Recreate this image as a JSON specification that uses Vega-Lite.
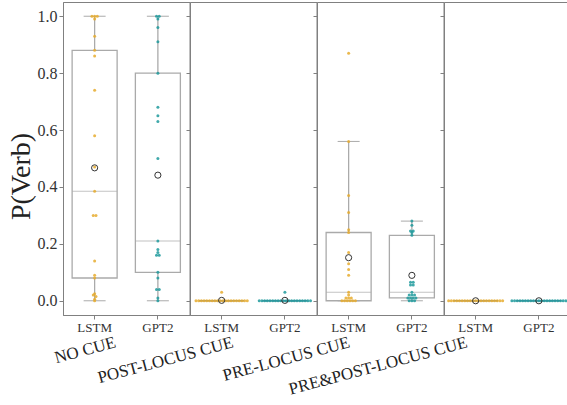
{
  "$schema": "https://vega.github.io/schema/vega-lite/v6.json",
  "padding": {"left": 6, "top": 1, "right": 0, "bottom": 5},
  "background": "white",
  "data": {"values": [
    {"cue":"NO CUE","model":"LSTM","value":1},{"cue":"NO CUE","model":"LSTM","value":1},{"cue":"NO CUE","model":"LSTM","value":1},{"cue":"NO CUE","model":"LSTM","value":0.99},{"cue":"NO CUE","model":"LSTM","value":0.93},{"cue":"NO CUE","model":"LSTM","value":0.88},{"cue":"NO CUE","model":"LSTM","value":0.86},{"cue":"NO CUE","model":"LSTM","value":0.74},{"cue":"NO CUE","model":"LSTM","value":0.58},{"cue":"NO CUE","model":"LSTM","value":0.47},{"cue":"NO CUE","model":"LSTM","value":0.385},{"cue":"NO CUE","model":"LSTM","value":0.3},{"cue":"NO CUE","model":"LSTM","value":0.3},{"cue":"NO CUE","model":"LSTM","value":0.14},{"cue":"NO CUE","model":"LSTM","value":0.09},{"cue":"NO CUE","model":"LSTM","value":0.08},{"cue":"NO CUE","model":"LSTM","value":0.025},{"cue":"NO CUE","model":"LSTM","value":0.02},{"cue":"NO CUE","model":"LSTM","value":0.015},{"cue":"NO CUE","model":"LSTM","value":0.005},{"cue":"NO CUE","model":"LSTM","value":0},
    {"cue":"NO CUE","model":"GPT2","value":1},{"cue":"NO CUE","model":"GPT2","value":1},{"cue":"NO CUE","model":"GPT2","value":0.99},{"cue":"NO CUE","model":"GPT2","value":0.96},{"cue":"NO CUE","model":"GPT2","value":0.91},{"cue":"NO CUE","model":"GPT2","value":0.8},{"cue":"NO CUE","model":"GPT2","value":0.68},{"cue":"NO CUE","model":"GPT2","value":0.65},{"cue":"NO CUE","model":"GPT2","value":0.63},{"cue":"NO CUE","model":"GPT2","value":0.5},{"cue":"NO CUE","model":"GPT2","value":0.21},{"cue":"NO CUE","model":"GPT2","value":0.18},{"cue":"NO CUE","model":"GPT2","value":0.17},{"cue":"NO CUE","model":"GPT2","value":0.16},{"cue":"NO CUE","model":"GPT2","value":0.16},{"cue":"NO CUE","model":"GPT2","value":0.1},{"cue":"NO CUE","model":"GPT2","value":0.08},{"cue":"NO CUE","model":"GPT2","value":0.04},{"cue":"NO CUE","model":"GPT2","value":0.04},{"cue":"NO CUE","model":"GPT2","value":0.01},{"cue":"NO CUE","model":"GPT2","value":0},
    {"cue":"POST-LOCUS CUE","model":"LSTM","value":0.03},{"cue":"POST-LOCUS CUE","model":"LSTM","value":0},{"cue":"POST-LOCUS CUE","model":"LSTM","value":0},{"cue":"POST-LOCUS CUE","model":"LSTM","value":0},{"cue":"POST-LOCUS CUE","model":"LSTM","value":0},{"cue":"POST-LOCUS CUE","model":"LSTM","value":0},{"cue":"POST-LOCUS CUE","model":"LSTM","value":0},{"cue":"POST-LOCUS CUE","model":"LSTM","value":0},{"cue":"POST-LOCUS CUE","model":"LSTM","value":0},{"cue":"POST-LOCUS CUE","model":"LSTM","value":0},{"cue":"POST-LOCUS CUE","model":"LSTM","value":0},{"cue":"POST-LOCUS CUE","model":"LSTM","value":0},{"cue":"POST-LOCUS CUE","model":"LSTM","value":0},{"cue":"POST-LOCUS CUE","model":"LSTM","value":0},{"cue":"POST-LOCUS CUE","model":"LSTM","value":0},{"cue":"POST-LOCUS CUE","model":"LSTM","value":0},{"cue":"POST-LOCUS CUE","model":"LSTM","value":0},{"cue":"POST-LOCUS CUE","model":"LSTM","value":0},{"cue":"POST-LOCUS CUE","model":"LSTM","value":0},{"cue":"POST-LOCUS CUE","model":"LSTM","value":0},{"cue":"POST-LOCUS CUE","model":"LSTM","value":0},
    {"cue":"POST-LOCUS CUE","model":"GPT2","value":0.03},{"cue":"POST-LOCUS CUE","model":"GPT2","value":0},{"cue":"POST-LOCUS CUE","model":"GPT2","value":0},{"cue":"POST-LOCUS CUE","model":"GPT2","value":0},{"cue":"POST-LOCUS CUE","model":"GPT2","value":0},{"cue":"POST-LOCUS CUE","model":"GPT2","value":0},{"cue":"POST-LOCUS CUE","model":"GPT2","value":0},{"cue":"POST-LOCUS CUE","model":"GPT2","value":0},{"cue":"POST-LOCUS CUE","model":"GPT2","value":0},{"cue":"POST-LOCUS CUE","model":"GPT2","value":0},{"cue":"POST-LOCUS CUE","model":"GPT2","value":0},{"cue":"POST-LOCUS CUE","model":"GPT2","value":0},{"cue":"POST-LOCUS CUE","model":"GPT2","value":0},{"cue":"POST-LOCUS CUE","model":"GPT2","value":0},{"cue":"POST-LOCUS CUE","model":"GPT2","value":0},{"cue":"POST-LOCUS CUE","model":"GPT2","value":0},{"cue":"POST-LOCUS CUE","model":"GPT2","value":0},{"cue":"POST-LOCUS CUE","model":"GPT2","value":0},{"cue":"POST-LOCUS CUE","model":"GPT2","value":0},{"cue":"POST-LOCUS CUE","model":"GPT2","value":0},{"cue":"POST-LOCUS CUE","model":"GPT2","value":0},
    {"cue":"PRE-LOCUS CUE","model":"LSTM","value":0.87},{"cue":"PRE-LOCUS CUE","model":"LSTM","value":0.56},{"cue":"PRE-LOCUS CUE","model":"LSTM","value":0.37},{"cue":"PRE-LOCUS CUE","model":"LSTM","value":0.31},{"cue":"PRE-LOCUS CUE","model":"LSTM","value":0.25},{"cue":"PRE-LOCUS CUE","model":"LSTM","value":0.24},{"cue":"PRE-LOCUS CUE","model":"LSTM","value":0.17},{"cue":"PRE-LOCUS CUE","model":"LSTM","value":0.13},{"cue":"PRE-LOCUS CUE","model":"LSTM","value":0.11},{"cue":"PRE-LOCUS CUE","model":"LSTM","value":0.09},{"cue":"PRE-LOCUS CUE","model":"LSTM","value":0.03},{"cue":"PRE-LOCUS CUE","model":"LSTM","value":0.02},{"cue":"PRE-LOCUS CUE","model":"LSTM","value":0.01},{"cue":"PRE-LOCUS CUE","model":"LSTM","value":0.01},{"cue":"PRE-LOCUS CUE","model":"LSTM","value":0.01},{"cue":"PRE-LOCUS CUE","model":"LSTM","value":0},{"cue":"PRE-LOCUS CUE","model":"LSTM","value":0},{"cue":"PRE-LOCUS CUE","model":"LSTM","value":0},{"cue":"PRE-LOCUS CUE","model":"LSTM","value":0},{"cue":"PRE-LOCUS CUE","model":"LSTM","value":0},{"cue":"PRE-LOCUS CUE","model":"LSTM","value":0},
    {"cue":"PRE-LOCUS CUE","model":"GPT2","value":0.28},{"cue":"PRE-LOCUS CUE","model":"GPT2","value":0.265},{"cue":"PRE-LOCUS CUE","model":"GPT2","value":0.245},{"cue":"PRE-LOCUS CUE","model":"GPT2","value":0.245},{"cue":"PRE-LOCUS CUE","model":"GPT2","value":0.24},{"cue":"PRE-LOCUS CUE","model":"GPT2","value":0.23},{"cue":"PRE-LOCUS CUE","model":"GPT2","value":0.065},{"cue":"PRE-LOCUS CUE","model":"GPT2","value":0.065},{"cue":"PRE-LOCUS CUE","model":"GPT2","value":0.055},{"cue":"PRE-LOCUS CUE","model":"GPT2","value":0.055},{"cue":"PRE-LOCUS CUE","model":"GPT2","value":0.03},{"cue":"PRE-LOCUS CUE","model":"GPT2","value":0.02},{"cue":"PRE-LOCUS CUE","model":"GPT2","value":0.02},{"cue":"PRE-LOCUS CUE","model":"GPT2","value":0.02},{"cue":"PRE-LOCUS CUE","model":"GPT2","value":0.01},{"cue":"PRE-LOCUS CUE","model":"GPT2","value":0.01},{"cue":"PRE-LOCUS CUE","model":"GPT2","value":0.01},{"cue":"PRE-LOCUS CUE","model":"GPT2","value":0.01},{"cue":"PRE-LOCUS CUE","model":"GPT2","value":0},{"cue":"PRE-LOCUS CUE","model":"GPT2","value":0},{"cue":"PRE-LOCUS CUE","model":"GPT2","value":0},
    {"cue":"PRE&POST-LOCUS CUE","model":"LSTM","value":0},{"cue":"PRE&POST-LOCUS CUE","model":"LSTM","value":0},{"cue":"PRE&POST-LOCUS CUE","model":"LSTM","value":0},{"cue":"PRE&POST-LOCUS CUE","model":"LSTM","value":0},{"cue":"PRE&POST-LOCUS CUE","model":"LSTM","value":0},{"cue":"PRE&POST-LOCUS CUE","model":"LSTM","value":0},{"cue":"PRE&POST-LOCUS CUE","model":"LSTM","value":0},{"cue":"PRE&POST-LOCUS CUE","model":"LSTM","value":0},{"cue":"PRE&POST-LOCUS CUE","model":"LSTM","value":0},{"cue":"PRE&POST-LOCUS CUE","model":"LSTM","value":0},{"cue":"PRE&POST-LOCUS CUE","model":"LSTM","value":0},{"cue":"PRE&POST-LOCUS CUE","model":"LSTM","value":0},{"cue":"PRE&POST-LOCUS CUE","model":"LSTM","value":0},{"cue":"PRE&POST-LOCUS CUE","model":"LSTM","value":0},{"cue":"PRE&POST-LOCUS CUE","model":"LSTM","value":0},{"cue":"PRE&POST-LOCUS CUE","model":"LSTM","value":0},{"cue":"PRE&POST-LOCUS CUE","model":"LSTM","value":0},{"cue":"PRE&POST-LOCUS CUE","model":"LSTM","value":0},{"cue":"PRE&POST-LOCUS CUE","model":"LSTM","value":0},{"cue":"PRE&POST-LOCUS CUE","model":"LSTM","value":0},{"cue":"PRE&POST-LOCUS CUE","model":"LSTM","value":0},
    {"cue":"PRE&POST-LOCUS CUE","model":"GPT2","value":0},{"cue":"PRE&POST-LOCUS CUE","model":"GPT2","value":0},{"cue":"PRE&POST-LOCUS CUE","model":"GPT2","value":0},{"cue":"PRE&POST-LOCUS CUE","model":"GPT2","value":0},{"cue":"PRE&POST-LOCUS CUE","model":"GPT2","value":0},{"cue":"PRE&POST-LOCUS CUE","model":"GPT2","value":0},{"cue":"PRE&POST-LOCUS CUE","model":"GPT2","value":0},{"cue":"PRE&POST-LOCUS CUE","model":"GPT2","value":0},{"cue":"PRE&POST-LOCUS CUE","model":"GPT2","value":0},{"cue":"PRE&POST-LOCUS CUE","model":"GPT2","value":0},{"cue":"PRE&POST-LOCUS CUE","model":"GPT2","value":0},{"cue":"PRE&POST-LOCUS CUE","model":"GPT2","value":0},{"cue":"PRE&POST-LOCUS CUE","model":"GPT2","value":0},{"cue":"PRE&POST-LOCUS CUE","model":"GPT2","value":0},{"cue":"PRE&POST-LOCUS CUE","model":"GPT2","value":0},{"cue":"PRE&POST-LOCUS CUE","model":"GPT2","value":0},{"cue":"PRE&POST-LOCUS CUE","model":"GPT2","value":0},{"cue":"PRE&POST-LOCUS CUE","model":"GPT2","value":0},{"cue":"PRE&POST-LOCUS CUE","model":"GPT2","value":0},{"cue":"PRE&POST-LOCUS CUE","model":"GPT2","value":0},{"cue":"PRE&POST-LOCUS CUE","model":"GPT2","value":0}
  ]},
  "bounds": "flush",
  "spacing": 0,
  "hconcat": [
    {
      "width": 126.5, "height": 313,
      "transform": [{"filter": "datum.cue === 'NO CUE'"}],
      "encoding": {
        "x": {"field": "model", "type": "nominal", "sort": ["LSTM", "GPT2"], "scale": {"paddingInner": 0, "paddingOuter": 0}, "axis": {"title": "NO CUE", "titleX": 50, "labelFont": "Liberation Serif", "titleFont": "Liberation Serif"}},
        "y": {"field": "value", "type": "quantitative", "scale": {"domain": [-0.05, 1.05], "nice": false, "zero": false}, "axis": {"title": "P(Verb)", "values": [0, 0.2, 0.4, 0.6, 0.8, 1], "format": ".1f", "titleFontSize": 28, "titleY": 174, "titlePadding": 2, "labelFontSize": 16, "labelPadding": 2, "labelFont": "Liberation Serif", "titleFont": "Liberation Serif"}}
      },
      "layer": [
        {"mark": {"type": "boxplot", "extent": 1.5, "size": 45, "outliers": false, "box": {"fill": "white", "stroke": "#aaaaaa", "strokeWidth": 1.3}, "median": {"color": "#aaaaaa", "strokeWidth": 1.3}, "rule": {"color": "#aaaaaa", "strokeWidth": 1.3}, "ticks": {"color": "#aaaaaa", "size": 22, "strokeWidth": 1.3}}},
        {"transform": [{"calculate": "round(datum.value * 100)", "as": "vbin"}, {"window": [{"op": "row_number", "as": "rn"}, {"op": "count", "as": "cnt"}], "groupby": ["model", "vbin"], "frame": [null, null]}, {"calculate": "(datum.rn - (datum.cnt + 1) / 2) * 2.7", "as": "dx"}],
         "mark": {"type": "circle", "size": 9, "opacity": 0.85},
         "encoding": {"xOffset": {"field": "dx", "type": "quantitative", "scale": {"domain": [-31.625, 31.625], "range": [0, 63.25]}}, "color": {"field": "model", "type": "nominal", "scale": {"domain": ["LSTM", "GPT2"], "range": ["#e6ab2e", "#1f9a9c"]}, "legend": null}}},
        {"mark": {"type": "point", "shape": "circle", "filled": false, "size": 38, "color": "#333333", "strokeWidth": 1, "opacity": 1},
         "encoding": {"y": {"aggregate": "mean", "field": "value", "type": "quantitative", "axis": {"title": "P(Verb)", "values": [0, 0.2, 0.4, 0.6, 0.8, 1], "format": ".1f", "titleFontSize": 28, "titleY": 174, "titlePadding": 2, "labelFontSize": 16, "labelPadding": 2, "labelFont": "Liberation Serif", "titleFont": "Liberation Serif"}}}}
      ]
    },
    {
      "width": 126.5, "height": 313,
      "transform": [{"filter": "datum.cue === 'POST-LOCUS CUE'"}],
      "encoding": {
        "x": {"field": "model", "type": "nominal", "sort": ["LSTM", "GPT2"], "scale": {"paddingInner": 0, "paddingOuter": 0}, "axis": {"title": "POST-LOCUS CUE", "titleX": 40.5, "labelFont": "Liberation Serif", "titleFont": "Liberation Serif"}},
        "y": {"field": "value", "type": "quantitative", "scale": {"domain": [-0.05, 1.05], "nice": false, "zero": false}, "axis": {"title": null, "labels": false, "values": [0, 0.2, 0.4, 0.6, 0.8, 1]}}
      },
      "layer": [
        {"mark": {"type": "boxplot", "extent": 1.5, "size": 45, "outliers": false, "box": {"fill": "white", "stroke": "#aaaaaa", "strokeWidth": 1.3}, "median": {"color": "#aaaaaa", "strokeWidth": 1.3}, "rule": {"color": "#aaaaaa", "strokeWidth": 1.3}, "ticks": {"color": "#aaaaaa", "size": 22, "strokeWidth": 1.3}}},
        {"transform": [{"calculate": "round(datum.value * 100)", "as": "vbin"}, {"window": [{"op": "row_number", "as": "rn"}, {"op": "count", "as": "cnt"}], "groupby": ["model", "vbin"], "frame": [null, null]}, {"calculate": "(datum.rn - (datum.cnt + 1) / 2) * 2.7", "as": "dx"}],
         "mark": {"type": "circle", "size": 9, "opacity": 0.85},
         "encoding": {"xOffset": {"field": "dx", "type": "quantitative", "scale": {"domain": [-31.625, 31.625], "range": [0, 63.25]}}, "color": {"field": "model", "type": "nominal", "scale": {"domain": ["LSTM", "GPT2"], "range": ["#e6ab2e", "#1f9a9c"]}, "legend": null}}},
        {"mark": {"type": "point", "shape": "circle", "filled": false, "size": 38, "color": "#333333", "strokeWidth": 1, "opacity": 1},
         "encoding": {"y": {"aggregate": "mean", "field": "value", "type": "quantitative", "axis": {"title": null, "labels": false, "values": [0, 0.2, 0.4, 0.6, 0.8, 1]}}}}
      ]
    },
    {
      "width": 126.5, "height": 313,
      "transform": [{"filter": "datum.cue === 'PRE-LOCUS CUE'"}],
      "encoding": {
        "x": {"field": "model", "type": "nominal", "sort": ["LSTM", "GPT2"], "scale": {"paddingInner": 0, "paddingOuter": 0}, "axis": {"title": "PRE-LOCUS CUE", "titleX": 30, "labelFont": "Liberation Serif", "titleFont": "Liberation Serif"}},
        "y": {"field": "value", "type": "quantitative", "scale": {"domain": [-0.05, 1.05], "nice": false, "zero": false}, "axis": {"title": null, "labels": false, "values": [0, 0.2, 0.4, 0.6, 0.8, 1]}}
      },
      "layer": [
        {"mark": {"type": "boxplot", "extent": 1.5, "size": 45, "outliers": false, "box": {"fill": "white", "stroke": "#aaaaaa", "strokeWidth": 1.3}, "median": {"color": "#aaaaaa", "strokeWidth": 1.3}, "rule": {"color": "#aaaaaa", "strokeWidth": 1.3}, "ticks": {"color": "#aaaaaa", "size": 22, "strokeWidth": 1.3}}},
        {"transform": [{"calculate": "round(datum.value * 100)", "as": "vbin"}, {"window": [{"op": "row_number", "as": "rn"}, {"op": "count", "as": "cnt"}], "groupby": ["model", "vbin"], "frame": [null, null]}, {"calculate": "(datum.rn - (datum.cnt + 1) / 2) * 2.7", "as": "dx"}],
         "mark": {"type": "circle", "size": 9, "opacity": 0.85},
         "encoding": {"xOffset": {"field": "dx", "type": "quantitative", "scale": {"domain": [-31.625, 31.625], "range": [0, 63.25]}}, "color": {"field": "model", "type": "nominal", "scale": {"domain": ["LSTM", "GPT2"], "range": ["#e6ab2e", "#1f9a9c"]}, "legend": null}}},
        {"mark": {"type": "point", "shape": "circle", "filled": false, "size": 38, "color": "#333333", "strokeWidth": 1, "opacity": 1},
         "encoding": {"y": {"aggregate": "mean", "field": "value", "type": "quantitative", "axis": {"title": null, "labels": false, "values": [0, 0.2, 0.4, 0.6, 0.8, 1]}}}}
      ]
    },
    {
      "width": 126.5, "height": 313,
      "transform": [{"filter": "datum.cue === 'PRE&POST-LOCUS CUE'"}],
      "encoding": {
        "x": {"field": "model", "type": "nominal", "sort": ["LSTM", "GPT2"], "scale": {"paddingInner": 0, "paddingOuter": 0}, "axis": {"title": "PRE&POST-LOCUS CUE", "titleX": 20.5, "labelFont": "Liberation Serif", "titleFont": "Liberation Serif"}},
        "y": {"field": "value", "type": "quantitative", "scale": {"domain": [-0.05, 1.05], "nice": false, "zero": false}, "axis": {"title": null, "labels": false, "values": [0, 0.2, 0.4, 0.6, 0.8, 1]}}
      },
      "layer": [
        {"mark": {"type": "boxplot", "extent": 1.5, "size": 45, "outliers": false, "box": {"fill": "white", "stroke": "#aaaaaa", "strokeWidth": 1.3}, "median": {"color": "#aaaaaa", "strokeWidth": 1.3}, "rule": {"color": "#aaaaaa", "strokeWidth": 1.3}, "ticks": {"color": "#aaaaaa", "size": 22, "strokeWidth": 1.3}}},
        {"transform": [{"calculate": "round(datum.value * 100)", "as": "vbin"}, {"window": [{"op": "row_number", "as": "rn"}, {"op": "count", "as": "cnt"}], "groupby": ["model", "vbin"], "frame": [null, null]}, {"calculate": "(datum.rn - (datum.cnt + 1) / 2) * 2.7", "as": "dx"}],
         "mark": {"type": "circle", "size": 9, "opacity": 0.85},
         "encoding": {"xOffset": {"field": "dx", "type": "quantitative", "scale": {"domain": [-31.625, 31.625], "range": [0, 63.25]}}, "color": {"field": "model", "type": "nominal", "scale": {"domain": ["LSTM", "GPT2"], "range": ["#e6ab2e", "#1f9a9c"]}, "legend": null}}},
        {"mark": {"type": "point", "shape": "circle", "filled": false, "size": 38, "color": "#333333", "strokeWidth": 1, "opacity": 1},
         "encoding": {"y": {"aggregate": "mean", "field": "value", "type": "quantitative", "axis": {"title": null, "labels": false, "values": [0, 0.2, 0.4, 0.6, 0.8, 1]}}}}
      ]
    }
  ],
  "config": {
    "font": "Liberation Serif",
    "style": {"guide-label": {"font": "Liberation Serif"}, "guide-title": {"font": "Liberation Serif"}},
    "view": {"stroke": "#808080", "strokeWidth": 1},
    "axis": {"grid": false, "domainColor": "#808080", "tickColor": "#808080", "tickSize": 4, "labelFont": "Liberation Serif", "titleFont": "Liberation Serif", "labelColor": "#333333", "titleColor": "#222222", "titleFontWeight": "normal"},
    "axisX": {"labelAngle": 0, "labelFontSize": 13, "labelPadding": 2, "titleAngle": -15, "titleAlign": "right", "titleBaseline": "top", "titleY": 19, "titleFontSize": 17}
  }
}
